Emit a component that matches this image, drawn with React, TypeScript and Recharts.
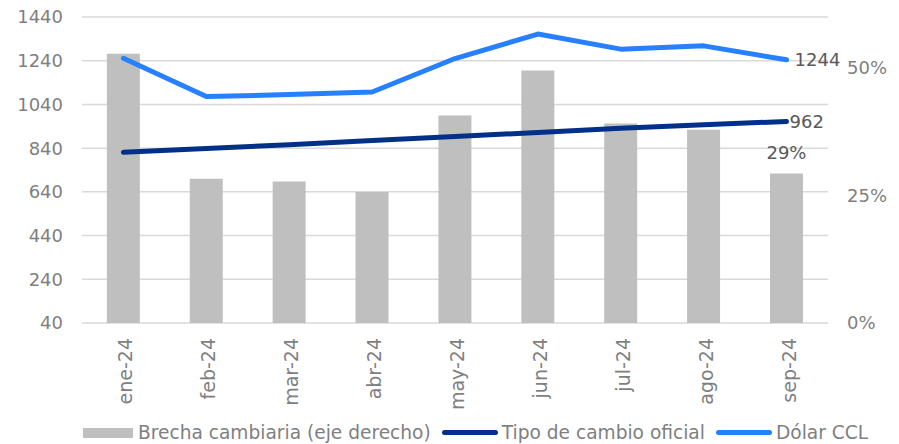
import React from 'react';
import { ComposedChart, Bar, Line, XAxis, YAxis, CartesianGrid, Legend } from 'recharts';

const months = ['ene-24', 'feb-24', 'mar-24', 'abr-24', 'may-24', 'jun-24', 'jul-24', 'ago-24', 'sep-24'];
const brecha = [0.528, 0.283, 0.2775, 0.257, 0.407, 0.495, 0.391, 0.379, 0.293];
const oficial = [821, 838, 856, 875, 893, 912, 931, 947, 962];
const ccl = [1251, 1076, 1085, 1097, 1250, 1362, 1293, 1308, 1244];
const leftTicks = [40, 240, 440, 640, 840, 1040, 1240, 1440];
const rightTicks = [0, 0.25, 0.5];
const legendOrder = ['Brecha cambiaria (eje derecho)', 'Tipo de cambio oficial', 'Dólar CCL'];

const data = months.map((m, i) => ({ mes: m, brecha: brecha[i], oficial: oficial[i], ccl: ccl[i] }));

const FONT = '"DejaVu Sans", Verdana, sans-serif';
const TICK = '#7f7f7f';
const LABEL = '#595959';
const LAST = months.length - 1;

const XTick = (props: any) => {
  const { x, y, payload } = props;
  return (
    <text
      x={x}
      y={y}
      transform={`rotate(-90, ${x}, ${y})`}
      textAnchor="end"
      dominantBaseline="central"
      dy={2}
      fill={TICK}
      fontSize={19}
      fontFamily={FONT}
    >
      {payload.value}
    </text>
  );
};

const cclLabel = (p: any) => {
  if (p.index !== LAST) return null;
  return (
    <text x={p.x + 8} y={p.y} dominantBaseline="central" textAnchor="start" fill={LABEL} fontSize={18} fontFamily={FONT}>
      {p.value}
    </text>
  );
};

const oficialLabel = (p: any) => {
  if (p.index !== LAST) return null;
  return (
    <text x={p.x + 3} y={p.y} dominantBaseline="central" textAnchor="start" fill={LABEL} fontSize={18} fontFamily={FONT}>
      {p.value}
    </text>
  );
};

const brechaLabel = (p: any) => {
  if (p.index !== LAST) return null;
  return (
    <text x={p.x + p.width / 2} y={p.y - 21} dominantBaseline="central" textAnchor="middle" fill={LABEL} fontSize={18} fontFamily={FONT}>
      {Math.round(p.value * 100) + '%'}
    </text>
  );
};

const LegendContent = (props: any) => {
  const items = [...(props.payload || [])].sort(
    (a: any, b: any) => legendOrder.indexOf(a.value) - legendOrder.indexOf(b.value)
  );
  return (
    <div style={{ display: 'flex', alignItems: 'center', paddingLeft: 83, fontFamily: FONT, fontSize: 18.6, color: TICK, whiteSpace: 'nowrap' }}>
      {items.map((it: any, i: number) => (
        <div key={i} style={{ display: 'flex', alignItems: 'center', marginRight: 11 }}>
          {it.type === 'rect' ? (
            <div style={{ width: 50, height: 10, background: it.color, marginRight: 5 }} />
          ) : (
            <div style={{ width: 56, height: 5, borderRadius: 3, background: it.color, marginRight: 4 }} />
          )}
          <span>{it.value}</span>
        </div>
      ))}
    </div>
  );
};

export default function App() {
  return (
    <div style={{ position: 'absolute', left: 0, top: 0, width: 899, height: 444, background: '#fff', fontFamily: FONT }}>
      <ComposedChart width={899} height={444} data={data} margin={{ top: 17, right: 0, bottom: 0, left: 0 }} barCategoryGap="30%">
        <CartesianGrid yAxisId="left" vertical={false} stroke="#d9d9d9" strokeWidth={1.5} />
        <XAxis
          dataKey="mes"
          height={100}
          tick={<XTick />}
          tickLine={false}
          tickSize={0}
          tickMargin={15}
          axisLine={false}
          interval={0}
        />
        <YAxis
          yAxisId="left"
          orientation="left"
          width={82}
          domain={[40, 1440]}
          ticks={leftTicks}
          interval={0}
          tickLine={false}
          tickSize={0}
          tickMargin={19}
          axisLine={false}
          tick={{ fill: TICK, fontSize: 18, fontFamily: FONT }}
        />
        <YAxis
          yAxisId="right"
          orientation="right"
          width={71}
          domain={[0, 0.6]}
          ticks={rightTicks}
          interval={0}
          tickLine={false}
          tickSize={0}
          tickMargin={19}
          axisLine={false}
          tickFormatter={(v: number) => Math.round(v * 100) + '%'}
          tick={{ fill: TICK, fontSize: 18, fontFamily: FONT }}
        />
        <Legend
          layout="vertical"
          align="center"
          verticalAlign="bottom"
          wrapperStyle={{ top: 422, left: 0, width: 899, bottom: 'auto' }}
          content={<LegendContent />}
        />
        <Bar
          yAxisId="right"
          dataKey="brecha"
          name="Brecha cambiaria (eje derecho)"
          fill="#bfbfbf"
          legendType="rect"
          isAnimationActive={false}
          label={brechaLabel}
        />
        <Line
          yAxisId="left"
          dataKey="oficial"
          name="Tipo de cambio oficial"
          stroke="#003087"
          strokeWidth={5}
          strokeLinecap="round"
          strokeLinejoin="round"
          dot={false}
          activeDot={false}
          legendType="line"
          isAnimationActive={false}
          label={oficialLabel}
        />
        <Line
          yAxisId="left"
          dataKey="ccl"
          name="Dólar CCL"
          stroke="#2680ff"
          strokeWidth={5}
          strokeLinecap="round"
          strokeLinejoin="round"
          dot={false}
          activeDot={false}
          legendType="line"
          isAnimationActive={false}
          label={cclLabel}
        />
      </ComposedChart>
    </div>
  );
}
